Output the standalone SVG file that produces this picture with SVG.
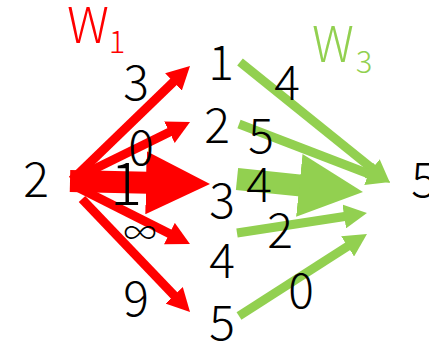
<svg xmlns="http://www.w3.org/2000/svg" width="429" height="346" viewBox="0 0 429 346">
<style>
text{font-family:"Noto Sans CJK JP","Noto Sans",sans-serif;font-weight:300;text-anchor:middle}
.n{font-size:48px;fill:#000}
.w{font-size:48px;fill:#000}
.r{stroke:#FF0000;fill:none}
.g{stroke:#92D050;fill:none}
.thin{stroke-width:9}
.big{stroke-width:22}
</style>
<defs>
<marker id="hr" markerUnits="userSpaceOnUse" viewBox="0 -12 23 24" markerWidth="23" markerHeight="24" refX="2" refY="0" orient="auto"><path d="M0,-12L23,0L0,12Z" fill="#FF0000"/></marker>
<marker id="hg" markerUnits="userSpaceOnUse" viewBox="0 -12 23 24" markerWidth="23" markerHeight="24" refX="2" refY="0" orient="auto"><path d="M0,-12L23,0L0,12Z" fill="#92D050"/></marker>
<marker id="bhr" markerUnits="userSpaceOnUse" viewBox="0 -31.5 64 63" markerWidth="64" markerHeight="63" refX="2" refY="0" orient="auto"><path d="M0,-31.5L64,0L0,31.5Z" fill="#FF0000"/></marker>
<marker id="bhg" markerUnits="userSpaceOnUse" viewBox="0 -31.5 64 63" markerWidth="64" markerHeight="63" refX="2" refY="0" orient="auto"><path d="M0,-31.5L64,0L0,31.5Z" fill="#92D050"/></marker>
</defs>
<g id="connectors">
<line class="r thin" x1="72" y1="180" x2="174.9" y2="80.6" marker-end="url(#hr)"/>
<line class="r thin" x1="72" y1="180" x2="171.2" y2="131.3" marker-end="url(#hr)"/>
<line class="r big" x1="70" y1="181" x2="148" y2="182.7" marker-end="url(#bhr)"/>
<line class="r thin" x1="75" y1="186" x2="171.2" y2="234.5" marker-end="url(#hr)"/>
<line class="r thin" x1="82" y1="199" x2="175.5" y2="296.8" marker-end="url(#hr)"/>
<line class="g thin" x1="240" y1="62" x2="373.7" y2="169.8" marker-end="url(#hg)"/>
<line class="g thin" x1="239" y1="124" x2="370.4" y2="174.5" marker-end="url(#hg)"/>
<line class="g big" x1="237" y1="179" x2="301.3" y2="185.6" marker-end="url(#bhg)"/>
<line class="g thin" x1="237" y1="233" x2="346.2" y2="216.2" marker-end="url(#hg)"/>
<line class="g thin" x1="239" y1="316" x2="349.3" y2="245.3" marker-end="url(#hg)"/>
</g>
<g id="title-w1"><text x="88" y="43" style="font-size:49px;fill:#FF0000">W</text><text x="117" y="53" style="font-size:31px;fill:#FF0000">1</text></g>
<g id="title-w3"><text x="333" y="62" style="font-size:49px;fill:#92D050">W</text><text x="364" y="73" style="font-size:31px;fill:#92D050">3</text></g>
<g id="node-in"><text class="n" x="36" y="197">2</text></g>
<g id="node-1"><text class="n" x="221" y="80">1</text></g>
<g id="node-2"><text class="n" x="217" y="143">2</text></g>
<g id="node-3"><text class="n" x="222" y="218">3</text></g>
<g id="node-4"><text class="n" x="222" y="278">4</text></g>
<g id="node-5"><text class="n" x="222" y="340">5</text></g>
<g id="node-out"><text class="n" x="424" y="197">5</text></g>
<g id="weights-w1">
<text class="w" x="136" y="100">3</text>
<text class="w" x="141" y="165">0</text>
<text class="w" x="126" y="205" style="font-size:60px">1</text>
<text class="w" x="140" y="245" style="font-size:33px">∞</text>
<text class="w" x="136" y="316">9</text>
</g>
<g id="weights-w3">
<text class="w" x="287" y="100">4</text>
<text class="w" x="261" y="153">5</text>
<text class="w" x="259" y="202">4</text>
<text class="w" x="280" y="248">2</text>
<text class="w" x="301" y="308">0</text>
</g>
</svg>
